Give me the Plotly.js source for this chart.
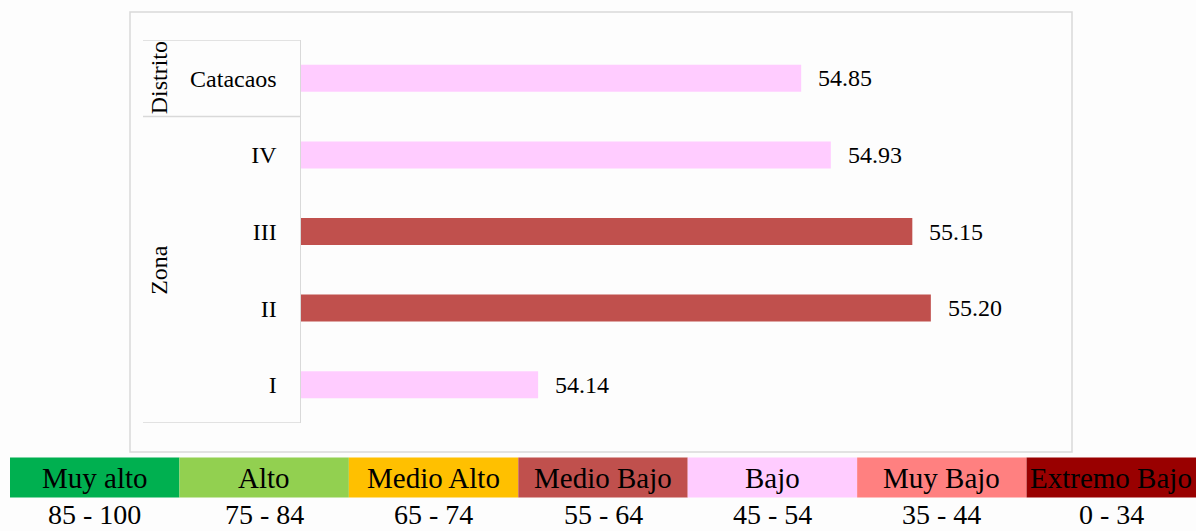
<!DOCTYPE html>
<html>
<head>
<meta charset="utf-8">
<script src="https://cdn.plot.ly/plotly-3.0.1.min.js"></script>
<style>html,body{margin:0;padding:0;background:#fdfdfd;}#chart{width:1196px;height:531px;}</style>
</head>
<body>
<div id="chart"></div>
<script>
// ---- data ----
var categories = ['I', 'II', 'III', 'IV', 'Catacaos'];
var values = [54.14, 55.20, 55.15, 54.93, 54.85];
var groupNames = ['Zona', 'Distrito'];
var groupSpans = [[-0.5, 3.5], [3.5, 4.5]];
var levelNames = ['Muy alto', 'Alto', 'Medio Alto', 'Medio Bajo', 'Bajo', 'Muy Bajo', 'Extremo Bajo'];
var levelRanges = ['85 - 100', '75 - 84', '65 - 74', '55 - 64', '45 - 54', '35 - 44', '0 - 34'];
var levelMins = [85, 75, 65, 55, 45, 35, 0];
var levelColors = ['#00B050', '#92D050', '#FFC000', '#C0504D', '#FFCCFF', '#FF8080', '#990000'];
var axisMin = 53.5;

var W = 1196, H = 531;
function px(x) { return x / W; }
function py(y) { return 1 - y / H; }
var FONT = 'Liberation Serif, Times New Roman, serif';

function colorFor(v) {
  for (var i = 0; i < levelMins.length; i++) if (v >= levelMins[i]) return levelColors[i];
  return levelColors[levelColors.length - 1];
}
var barColors = values.map(colorFor);

var trace = {
  type: 'bar',
  orientation: 'h',
  y: categories,
  x: values,
  marker: { color: barColors, line: { width: 0 } },
  hoverinfo: 'x+y'
};

var shapes = [];
var annotations = [];

// chart box
shapes.push({ type: 'rect', xref: 'paper', yref: 'paper', x0: px(130), x1: px(1072), y0: py(452), y1: py(12),
  line: { color: '#d9d9d9', width: 1.5 }, fillcolor: 'rgba(0,0,0,0)' });

// group separators
var sepVals = [-0.5, 3.5, 4.5];
sepVals.forEach(function (s) {
  shapes.push({ type: 'line', xref: 'paper', yref: 'y', x0: px(143), x1: px(301), y0: s, y1: s,
    line: { color: '#d9d9d9', width: 1.5 } });
});
groupNames.forEach(function (g, i) {
  annotations.push({ text: g, xref: 'paper', yref: 'y', x: px(159), y: (groupSpans[i][0] + groupSpans[i][1]) / 2,
    textangle: -90, showarrow: false, font: { family: FONT, size: 24, color: '#000' }, xanchor: 'center', yanchor: 'middle' });
});

// value labels
categories.forEach(function (c, i) {
  annotations.push({ text: values[i].toFixed(2), xref: 'x', yref: 'y', x: values[i], y: c,
    xanchor: 'left', yanchor: 'middle', xshift: 15, showarrow: false,
    font: { family: FONT, size: 24, color: '#000' } });
});

// level legend
var bw = (W - 10) / levelNames.length;
levelNames.forEach(function (n, i) {
  var x0 = 10 + i * bw, x1 = x0 + bw;
  shapes.push({ type: 'rect', xref: 'paper', yref: 'paper', x0: px(x0), x1: px(x1), y0: py(497.5), y1: py(457.5),
    line: { width: 0 }, fillcolor: levelColors[i] });
  annotations.push({ text: n, xref: 'paper', yref: 'paper', x: px((x0 + x1) / 2), y: py(478),
    xanchor: 'center', yanchor: 'middle', showarrow: false, font: { family: FONT, size: 29, color: '#000' } });
  annotations.push({ text: levelRanges[i], xref: 'paper', yref: 'paper', x: px((x0 + x1) / 2), y: py(514),
    xanchor: 'center', yanchor: 'middle', showarrow: false, font: { family: FONT, size: 28, color: '#000' } });
});

var layout = {
  width: W, height: H,
  margin: { l: 0, r: 0, t: 0, b: 0 },
  paper_bgcolor: '#fdfdfd',
  plot_bgcolor: 'rgba(0,0,0,0)',
  showlegend: false,
  bargap: 0.648,
  xaxis: { domain: [px(301), px(1060)], range: [axisMin, axisMin + (1060 - 301) / 370.5], showgrid: false, zeroline: false,
    showticklabels: false, ticks: '', showline: false, fixedrange: true },
  yaxis: { domain: [py(423), py(40)], type: 'category', categoryorder: 'array', categoryarray: categories,
    range: [-0.5, 4.5], showgrid: false, zeroline: false, showline: true, linecolor: '#d9d9d9', linewidth: 1.5,
    ticks: '', ticklabelstandoff: 18, tickfont: { family: FONT, size: 24, color: '#000' }, fixedrange: true },
  shapes: shapes,
  annotations: annotations
};

Plotly.newPlot('chart', [trace], layout, { displayModeBar: false, staticPlot: true });
</script>
</body>
</html>
